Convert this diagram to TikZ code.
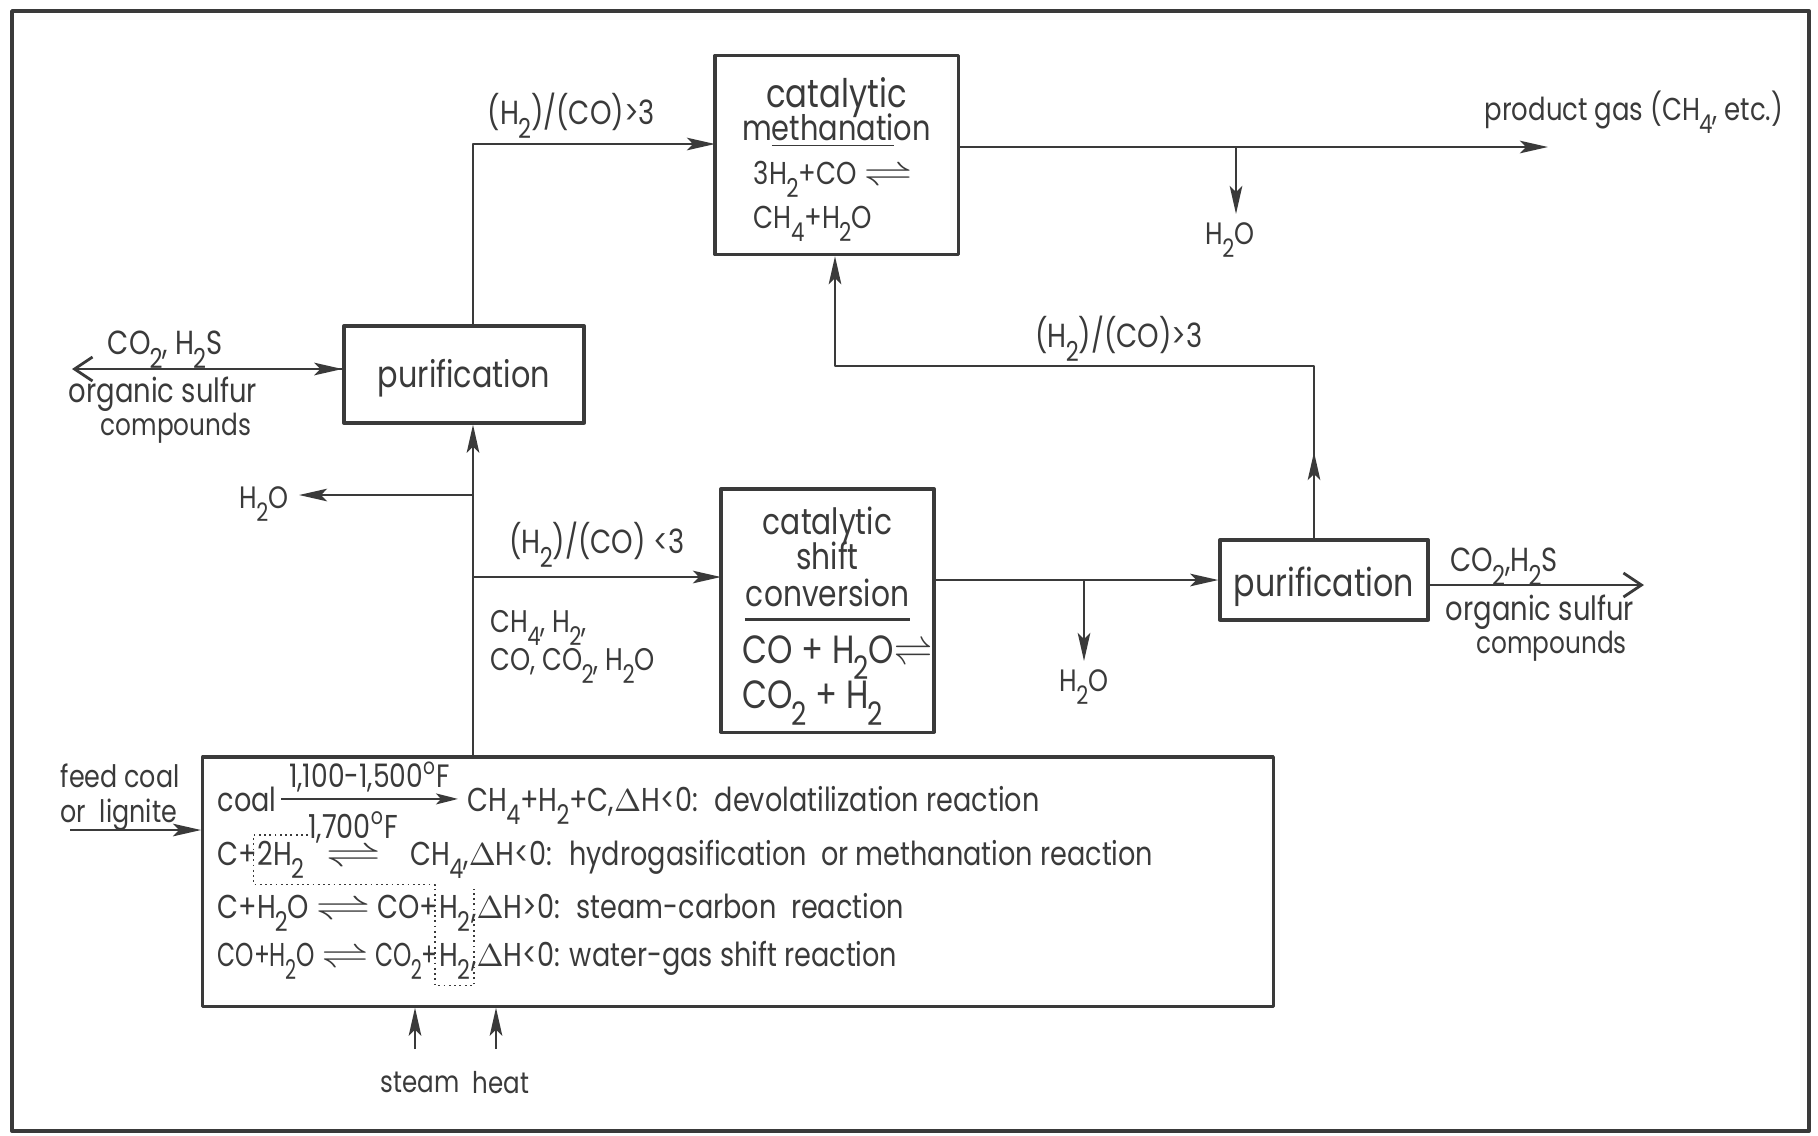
\documentclass[tikz,border=0pt]{standalone}
\usepackage{amsmath}
\usepackage{graphicx}
\usepackage{fontspec}
\setmainfont{Poppins}[FakeStretch=0.82]
\usetikzlibrary{arrows.meta,positioning}
\definecolor{ink}{HTML}{3A3A3A}
% lowered, slightly smaller index as in the hand lettering
\newcommand\dn[1]{\kern-0.03em\raisebox{-0.75ex}{\scalebox{0.82}{#1}}}
\newcommand\eqar{\scalebox{1.7}[1]{$\rightleftharpoons$}}
\newcommand\fs[1]{\fontsize{#1}{#1}\selectfont}

\begin{document}
\begin{tikzpicture}[x=0.01cm, y=-0.01cm, line join=round]
  \tikzset{
    box/.style={draw=ink, line width=0.9pt, align=center, inner sep=0pt, text=ink,
                font=\fontsize{10}{11.5}\selectfont},
    flow/.style={draw=ink, line width=0.8pt, -{Stealth[length=2.8mm,width=1.25mm,inset=0.6mm]}},
    thinflow/.style={draw=ink, line width=0.6pt, -{Stealth[length=2.2mm,width=1.1mm,inset=0.5mm]}},
    vent/.style={draw=ink, line width=0.8pt, -{Straight Barb[length=1.8mm,width=2.4mm]}},
    lbl/.style={inner sep=0pt, text=ink, font=\fs{9.5}},
    small/.style={lbl, font=\fs{8.8}},
    rx/.style={lbl, anchor=base west, font=\fs{9.4}},
    dots/.style={draw=ink, line width=0.5pt, densely dotted}
  }
  \useasboundingbox (0,0) rectangle (1818,1135);
  \draw[ink, line width=1.1pt] (12,11) rectangle (1809,1131);

  % units
  \node[box, minimum width=2.43cm, minimum height=1.99cm] (meth) at (836.5,155)
    {{\fs{11.2}\rule{0pt}{10.9pt}catalytic}\\[-2pt]m\underline{ethanati}on\\[1pt]
     {\fs{9}\makebox[1.65cm][l]{3H\dn2+CO \scalebox{1.5}[1]{$\rightleftharpoons$}}}\\[1pt]
     {\fs{9}\makebox[1.65cm][l]{CH\dn4+H\dn2O}}};
  \node[box, minimum width=2.40cm, minimum height=0.97cm, font=\fs{10.5}]
    (pur1) at (464,374.5) {\rule{0pt}{10pt}purification};
  \node[box, minimum width=2.13cm, minimum height=2.43cm, font=\fontsize{10.3}{11}\selectfont] (shift) at (827.5,610.5)
    {\rule{0pt}{11pt}catalytic\\[-1pt]shift\\[-0.5pt]conversion\\[-7pt]\rule{1.65cm}{0.7pt}\\[1pt]
     {\fs{11.2}\makebox[1.7cm][l]{CO + H\dn2O$\rightleftharpoons$}}\\[-0.5pt]
     {\fs{11.2}\makebox[1.7cm][l]{CO\dn2 + H\dn2}}};
  \node[box, minimum width=2.08cm, minimum height=0.80cm, font=\fs{11}]
    (pur2) at (1324,580) {\rule{0pt}{12pt}purification};
  \node[box, minimum width=10.70cm, minimum height=2.49cm] (react) at (738,881.5) {};

  % reactions in the gasifier
  \node[rx] (r1a) at (217,811) {coal};
  \node[rx] (r1b) at (467,811) {CH\dn4+H\dn2+C,$\Delta$H<0: \ devolatilization reaction};
  \draw[thinflow] ([xshift=0.04cm]r1a.east) -- ([xshift=-0.09cm]r1a.east -| r1b.west)
    node[midway, above=1.5pt, lbl, font=\fs{9.2}] (t1) {1,100-1,500\textsuperscript{o}F};

  \node[rx] (r2a) at (217,865) {C+};
  \node[rx] (r2h) at (257,865) {2H\dn2};
  \node[rx] (r2e) at (r2h.base east) {\hbox to 0.96cm{\hss\eqar\hss}};
  \node[rx, anchor=base] (t2) at ([yshift=0.27cm]r2e.base) {1,700\textsuperscript{o}F};
  \node[rx] (r2b) at ([xshift=0.08cm]r2e.base east)
    {CH\dn4,$\Delta$H<0: \ hydrogasification \ or methanation reaction};

  \node[rx] (r3a) at (217,918) {\makebox[2.2cm][l]{C+H\dn2O\hfill\eqar\hfill CO+}};
  \node[rx] (r3h) at (r3a.base east) {H\dn2};
  \node[rx] (r3b) at (r3h.base east) {,$\Delta$H>0: \ steam-carbon \ reaction};

  \node[rx] (r4a) at (217,966) {\makebox[2.2cm][l]{\scalebox{0.86}[1]{CO+H\dn2O}\hfill
    \scalebox{1.45}[1]{$\rightleftharpoons$}\hfill\scalebox{0.86}[1]{CO\dn2+}}};
  \node[rx] (r4h) at (r4a.base east) {H\dn2};
  \node[rx] (r4b) at (r4h.base east) {,$\Delta$H<0: water-gas shift reaction};

  % dotted ring round the hydrogen
  \coordinate (d0) at ([xshift=1pt,yshift=1.5pt]r2h.north east);
  \coordinate (d1) at ([xshift=-1pt,yshift=-1.5pt]r2h.south west);
  \coordinate (d2) at ([xshift=-1pt,yshift=1.5pt]r3h.north west);
  \coordinate (d3) at ([xshift=1pt,yshift=-1.5pt]r4h.south east);
  \draw[dots] (d0) -- (d0 -| d1) -- (d1) -- (d1 -| d2) -- (d2 |- d3) -- (d3) -- (d3 |- d2);

  % points on the lines
  \coordinate (tkb) at (473,757);
  \coordinate (mfeed) at (715,144);
  \coordinate (wl) at (299,495);
  \coordinate (sfeed) at (721,577);
  \coordinate (ventL) at (72,369);
  \coordinate (prod) at (1548,147);
  \coordinate (w1) at (1236,214);
  \coordinate (w2) at (1084,661);
  \coordinate (ventR) at (1644,585);
  \coordinate (rtop) at (1314,366);
  \coordinate (rc) at (835,366);
  \coordinate (feed) at (70,830);
  \coordinate (stm) at (415,1049);
  \coordinate (ht) at (496,1049);

  % streams
  \draw[flow] (tkb) -- (tkb |- pur1.south);
  \draw[flow] (tkb |- pur1.north) |- (mfeed);
  \draw[flow] (tkb |- wl) -- (wl);
  \draw[flow] (tkb |- sfeed) -- (sfeed);
  \draw[vent] (pur1.west |- ventL) -- (ventL);
  \draw[flow] ([xshift=-0.25cm]pur1.west |- ventL) -- (pur1.west |- ventL);
  \draw[flow] (meth.east |- prod) -- (prod);
  \draw[flow] (w1 |- prod) -- (w1);
  \draw[flow] (shift.east |- pur2.west) -- (pur2.west);
  \draw[flow] (w2 |- pur2.west) -- (w2);
  \draw[vent] (pur2.east |- ventR) -- (ventR);
  \draw[flow] (rtop |- pur2.north) -- (rtop |- 0,452);
  \draw[flow] (rtop |- pur2.north) -- (rtop) -| (rc |- meth.south);
  \draw[flow] (feed) -- (feed -| react.west);
  \draw[flow] (stm) -- (stm |- react.south);
  \draw[flow] (ht) -- (ht |- react.south);

  % stream labels
  \node[lbl, anchor=west] (top) at (487,116) {(H\dn2)/(CO)>3};
  \node[lbl, anchor=west, font=\fs{9}] (prodl) at (1484,112) {product gas (CH\dn4, etc.)};
  \node[small, below=0.08cm of w1, xshift=-0.06cm] (h2o1) {H\dn2O};
  \node[lbl] (recl) at (1119,339) {(H\dn2)/(CO)>3};
  \node[lbl] (co2l) at (165,350) {CO\dn2, H\dn2S};
  \node[lbl, align=center, font=\fontsize{9.5}{9.2}\selectfont] (orgl) at (163,410)
    {organic sulfur\\{\fs{8.6}\hspace*{0.26cm}compounds}};
  \node[small, left=0.1cm of wl, yshift=-2.5pt] (h2o2) {H\dn2O};
  \node[lbl] (ltl) at (597,545) {(H\dn2)/(CO) <3};
  \node[lbl, anchor=west, align=left, font=\fontsize{8.9}{9}\selectfont] (mix) at (490,647)
    {CH\dn4, H\dn2,\\CO, CO\dn2, H\dn2O};
  \node[small, below=0.08cm of w2] (h2o3) {H\dn2O};
  \node[lbl] (co2r) at (1504,567) {CO\dn2,H\dn2S};
  \node[lbl, align=center, font=\fontsize{9.5}{9.2}\selectfont] (orgr) at (1540,628)
    {organic sulfur\\{\fs{8.6}\hspace*{0.23cm}compounds}};
  \node[small, anchor=west, align=left, font=\fontsize{8.8}{10}\selectfont] (feedl) at (60,797)
    {feed coal\\or \ lignite};
  \node[small, below=0.22cm of stm, xshift=0.05cm, font=\fs{8.5}] (stml) {steam};
  \node[small, below=0.22cm of ht, xshift=0.05cm, font=\fs{8.5}] (htl) {heat};
\end{tikzpicture}
\end{document}
